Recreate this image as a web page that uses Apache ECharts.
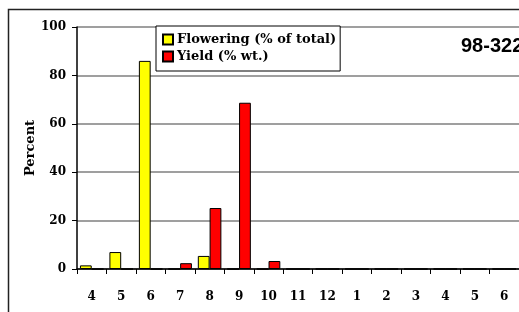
<!DOCTYPE html>
<html>
<head>
<meta charset="UTF-8">
<title></title>
<style>
html,body{margin:0;padding:0;background:#fff}
#chart{width:519px;height:312px}
</style>
</head>
<body>
<div id="chart"></div>
<script src="https://cdn.jsdelivr.net/npm/echarts@6/dist/echarts.min.js"></script>
<script>
// months, April of one year to June of the next
var months = ['4', '5', '6', '7', '8', '9', '10', '11', '12', '1', '2', '3', '4', '5', '6'];
var flowering = [1.5, 7, 86, 0, 5.4, 0, 0, 0, 0, 0, 0, 0, 0, 0, 0];
var yieldWt = [0, 0, 0, 2.4, 25.2, 68.7, 3.3, 0, 0, 0, 0, 0, 0, 0, 0];
var yTicks = [0, 20, 40, 60, 80, 100];

var serif = '"DejaVu Serif", "Liberation Serif", serif';

var chart = echarts.init(document.getElementById('chart'));
var option = {
	animation: false,
	title: {
		text: '98-322',
		left: 461,
		top: 36,
		padding: 0,
		textStyle: {
			fontFamily: '"Liberation Sans", Arial, sans-serif',
			fontWeight: 'bold',
			fontSize: 20,
			color: '#000'
		}
	},
	legend: {
		orient: 'vertical',
		left: 156,
		top: 26,
		padding: [7, 4, 8, 6],
		itemGap: 4,
		itemWidth: 10,
		itemHeight: 10,
		icon: 'rect',
		backgroundColor: '#fff',
		borderColor: '#000',
		borderWidth: 1,
		borderRadius: 0,
		textStyle: {
			fontFamily: serif,
			fontWeight: 'bold',
			fontSize: 13,
			color: '#000',
			padding: [0, 0, 0, -1]
		},
		data: ['Flowering (% of total)', 'Yield (% wt.)']
	},
	graphic: [{
		type: 'rect',
		silent: true,
		z: -1,
		shape: { x: 8.5, y: 9.5, width: 700, height: 500 },
		style: { fill: 'none', stroke: '#222', lineWidth: 1.5 }
	}],
	grid: {
		left: 77,
		top: 27,
		bottom: 43,
		right: -6
	},
	xAxis: {
		type: 'category',
		data: months,
		boundaryGap: true,
		axisLine: { lineStyle: { color: '#000', width: 1.5 } },
		axisTick: { show: true, length: 5, lineStyle: { color: '#000' } },
		axisLabel: {
			interval: 0,
			margin: 22,
			fontFamily: serif,
			fontWeight: 'bold',
			fontSize: 12,
			color: '#000'
		}
	},
	yAxis: {
		type: 'value',
		min: 0,
		max: 100,
		interval: 20,
		name: 'Percent',
		nameLocation: 'middle',
		nameRotate: 90,
		nameGap: 40,
		nameMoveOverlap: false,
		nameTextStyle: {
			fontFamily: serif,
			fontWeight: 'bold',
			fontSize: 13,
			color: '#000'
		},
		axisLine: { show: true, lineStyle: { color: '#000', width: 1.5 } },
		axisTick: { show: true, length: 5, lineStyle: { color: '#000' } },
		axisLabel: {
			margin: 11,
			fontFamily: serif,
			fontWeight: 'bold',
			fontSize: 12,
			color: '#000',
			formatter: function (v) { return yTicks.indexOf(v) >= 0 ? String(v) : ''; }
		},
		splitLine: { show: true, lineStyle: { color: '#7f7f7f', width: 1.5 } }
	},
	series: [
		{
			name: 'Flowering (% of total)',
			type: 'bar',
			barGap: '0%',
			barCategoryGap: '20%',
			itemStyle: { color: '#ffff00', borderColor: '#000', borderWidth: 1 },
			data: flowering
		},
		{
			name: 'Yield (% wt.)',
			type: 'bar',
			barGap: '0%',
			barCategoryGap: '20%',
			itemStyle: { color: '#ff0000', borderColor: '#000', borderWidth: 1 },
			data: yieldWt
		}
	]
};
chart.setOption(option);
</script>
</body>
</html>
